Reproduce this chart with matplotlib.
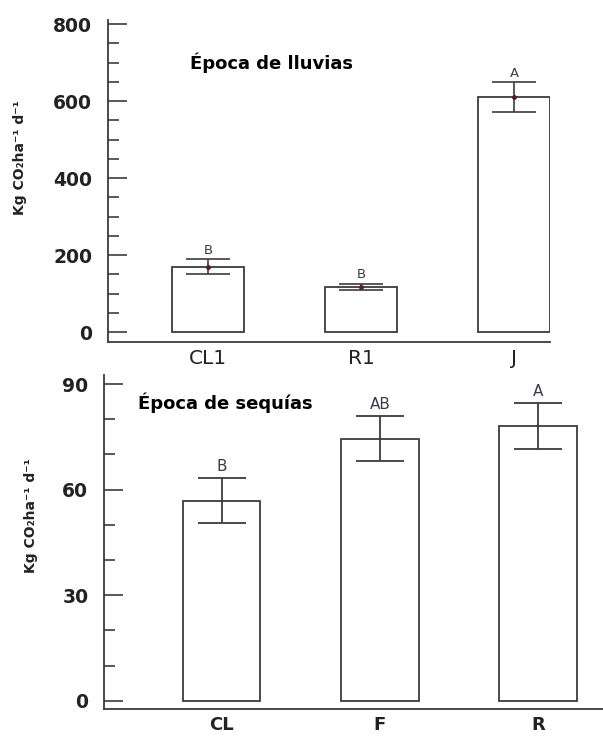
import matplotlib.pyplot as plt
import numpy as np
from matplotlib.ticker import MultipleLocator

# Época de lluvias
lluvias_cat = ["CL1", "R1", "J"]
lluvias_val = [170, 118, 611]
lluvias_err = [19, 8, 38]
lluvias_let = ["B", "B", "A"]

# Época de sequías
sequias_cat = ["CL", "F", "R"]
sequias_val = [56.8, 74.5, 78.0]
sequias_err = [6.4, 6.4, 6.5]
sequias_let = ["B", "AB", "A"]

W, H = 603, 736
fig = plt.figure(figsize=(W / 100, H / 100), dpi=100)
edge = "#3c3c3c"
txt = "#222222"
ylab = "Kg CO₂ha⁻¹ d⁻¹"


def px_axes(l, r, t, b):
    return fig.add_axes([l / W, 1 - b / H, (r - l) / W, (b - t) / H])


def style(ax):
    ax.spines['right'].set_visible(False)
    ax.spines['top'].set_visible(False)
    for s in ("left", "bottom"):
        ax.spines[s].set_color(edge)
        ax.spines[s].set_linewidth(1.3)
    ax.tick_params(axis="y", which="major", direction="in", length=14, width=1.2,
                   color=edge, pad=11.5, labelsize=13.5, labelcolor=txt)
    ax.tick_params(axis="y", which="minor", direction="in", length=8, width=1.2, color=edge)
    ax.tick_params(axis="x", length=0)
    for t in ax.get_yticklabels():
        t.set_fontweight("bold")
        t.set_fontfamily("DejaVu Sans")


# top panel
ax1 = px_axes(108, 550, 20, 341.7)
x1 = np.arange(1, 4)
ax1.bar(x1, lluvias_val, width=0.47, color="white", edgecolor=edge, linewidth=1.3, zorder=2)
ax1.errorbar(x1, lluvias_val, yerr=lluvias_err, fmt="o", ms=2.5, color="#5a1a2a",
             ecolor=edge, elinewidth=1.2, capsize=15.5, capthick=1.2, zorder=3)
for xi, v, e, l in zip(x1, lluvias_val, lluvias_err, lluvias_let):
    ax1.annotate(l, (xi, v + e), xytext=(0, 2), textcoords="offset points",
                 ha="center", va="bottom", fontsize=9.5, color="#3a3a4a")
ax1.set_xlim(0.346, 3.235)
ax1.set_ylim(-25, 811)
ax1.set_yticks([0, 200, 400, 600, 800])
ax1.yaxis.set_minor_locator(MultipleLocator(50))
ax1.set_xticks(x1)
ax1.set_xticklabels(lluvias_cat, fontsize=14.5, family="DejaVu Sans", color=txt)
ax1.tick_params(axis="x", pad=5)
style(ax1)
ax1.set_ylabel(ylab, fontsize=10, fontweight="bold", family="DejaVu Sans", color=txt)
ax1.yaxis.set_label_coords(-0.183, 0.571)
ax1.text(0.1855, 0.866, "Época de lluvias", transform=ax1.transAxes, fontsize=13,
         fontweight="bold", family="DejaVu Sans", va="center", ha="left", color="black")

# bottom panel
ax2 = px_axes(104.3, 603, 375, 709.3)
x2 = np.arange(1, 4)
ax2.bar(x2, sequias_val, width=0.49, color="white", edgecolor=edge, linewidth=1.3, zorder=2)
ax2.errorbar(x2, sequias_val, yerr=sequias_err, fmt="none",
             ecolor=edge, elinewidth=1.3, capsize=17.4, capthick=1.3, zorder=3)
for xi, v, e, l in zip(x2, sequias_val, sequias_err, sequias_let):
    ax2.annotate(l, (xi, v + e), xytext=(0, 3), textcoords="offset points",
                 ha="center", va="bottom", fontsize=11, color="#3a3a4a")
ax2.set_xlim(0.2577, 3.411)
ax2.set_ylim(-2.45, 92.6)
ax2.set_yticks([0, 30, 60, 90])
ax2.yaxis.set_minor_locator(MultipleLocator(10))
ax2.set_xticks(x2)
ax2.set_xticklabels(sequias_cat, fontsize=13, fontweight="bold", family="DejaVu Sans",
                    color=txt)
ax2.tick_params(axis="x", pad=5)
style(ax2)
ax2.set_ylabel(ylab, fontsize=10, fontweight="bold", family="DejaVu Sans", color=txt)
ax2.yaxis.set_label_coords(-0.133, 0.578)
ax2.text(0.0676, 0.917, "Época de sequías", transform=ax2.transAxes, fontsize=13,
         fontweight="bold", family="DejaVu Sans", va="center", ha="left", color="black")

fig.savefig("out.png", dpi=100)
